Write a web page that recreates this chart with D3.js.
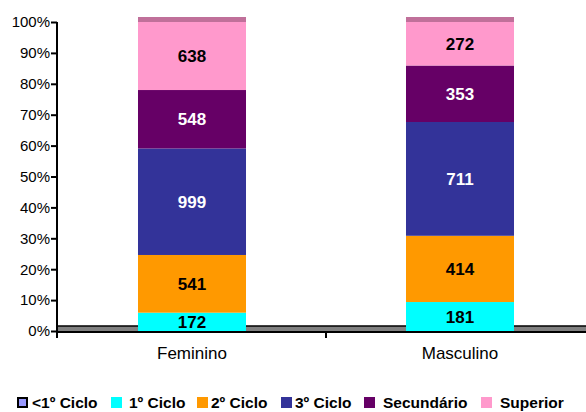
<!DOCTYPE html>
<html>
<head>
<meta charset="utf-8">
<script src="https://cdn.jsdelivr.net/npm/d3@7"></script>
<style>
  body { margin: 0; background: #fff; }
  text { font-family: "Liberation Sans", Arial, sans-serif; }
</style>
</head>
<body>
<div id="container"></div>
<script>
// categories and series
const categories = ["Feminino", "Masculino"];
const seriesNames = ["<1º Ciclo", "1º Ciclo", "2º Ciclo", "3º Ciclo", "Secundário", "Superior"];
const menos1Ciclo = [0, 0];
const ciclo1 = [172, 181];
const ciclo2 = [541, 414];
const ciclo3 = [999, 711];
const secundario = [548, 353];
const superior = [638, 272];
const yTicks = [0, 0.1, 0.2, 0.3, 0.4, 0.5, 0.6, 0.7, 0.8, 0.9, 1];

const colors = ["#9999ff", "#00ffff", "#ff9900", "#333399", "#660066", "#ff99cc"];
const labelColors = ["#000", "#000", "#000", "#fff", "#fff", "#000"];

const width = 586, height = 412;
const plot = { left: 57, right: 586, top: 22, bottom: 331 };

const series = [menos1Ciclo, ciclo1, ciclo2, ciclo3, secundario, superior];

// rows for d3.stack, as shares of each column
const table = categories.map(function (c, i) {
  let row = { cat: c };
  let total = d3.sum(series, function (s) { return s[i]; });
  seriesNames.forEach(function (n, k) {
    row[n] = series[k][i] / total;
    row[n + "_raw"] = series[k][i];
  });
  return row;
});
const stacked = d3.stack().keys(seriesNames)(table);

const x = d3.scaleBand().domain(categories).range([58, 594]).padding(0);
const barW = x.bandwidth() * 0.403;
const y = d3.scaleLinear().domain([0, 1]).range([plot.bottom, plot.top]);

const svg = d3.select("#container").append("svg")
  .attr("width", width)
  .attr("height", height);

// floor
svg.append("rect")
  .attr("x", plot.left).attr("y", y(0) - 5)
  .attr("width", plot.right - plot.left).attr("height", 6)
  .style("fill", "#808080");
svg.append("line")
  .attr("x1", plot.left).attr("x2", plot.right)
  .attr("y1", y(0) - 5).attr("y2", y(0) - 5)
  .style("stroke", "#000").style("stroke-width", 1.3);

// bars
const layers = svg.append("g").selectAll("g")
  .data(stacked)
  .enter().append("g")
  .style("fill", function (d, i) { return colors[i]; });

layers.selectAll("rect")
  .data(function (d) { return d; })
  .enter().append("rect")
  .attr("x", function (d) { return x(d.data.cat) + (x.bandwidth() - barW) / 2; })
  .attr("y", function (d) { return y(d[1]); })
  .attr("width", barW)
  .attr("height", function (d) { return y(d[0]) - y(d[1]); });

// top face of the columns
svg.append("g").selectAll("rect")
  .data(categories)
  .enter().append("rect")
  .attr("x", function (d) { return x(d) + (x.bandwidth() - barW) / 2; })
  .attr("y", y(1) - 5)
  .attr("width", barW)
  .attr("height", 5)
  .style("fill", "#c0709a");

// value labels
stacked.forEach(function (layer, k) {
  svg.append("g").selectAll("text")
    .data(layer.filter(function (d) { return d.data[seriesNames[k] + "_raw"] > 0; }))
    .enter().append("text")
    .attr("x", function (d) { return x(d.data.cat) + x.bandwidth() / 2; })
    .attr("y", function (d) { return (y(d[0]) + y(d[1])) / 2 + 6; })
    .attr("text-anchor", "middle")
    .style("font-size", "17px")
    .style("font-weight", "bold")
    .style("fill", labelColors[k])
    .text(function (d) { return d.data[seriesNames[k] + "_raw"]; });
});

// floor bottom edge / x axis
svg.append("line")
  .attr("x1", plot.left).attr("x2", plot.right)
  .attr("y1", y(0) + 1).attr("y2", y(0) + 1)
  .style("stroke", "#000").style("stroke-width", 2);
svg.append("line")
  .attr("x1", x("Masculino")).attr("x2", x("Masculino"))
  .attr("y1", y(0)).attr("y2", y(0) + 7)
  .style("stroke", "#000").style("stroke-width", 2);

// y axis
const yAxis = svg.append("g")
  .attr("transform", `translate(${plot.left} 0)`)
  .call(d3.axisLeft(y).tickValues(yTicks).tickFormat(d3.format(".0%")).tickSize(6).tickPadding(1));
yAxis.select(".domain").style("stroke", "#000").style("stroke-width", 2)
  .attr("d", `M0,${plot.top}V${y(0) + 7}`);
yAxis.selectAll(".tick line").style("stroke", "#000").style("stroke-width", 2);
yAxis.selectAll(".tick text")
  .style("font-family", "'Liberation Sans', Arial, sans-serif")
  .style("font-size", "15px")
  .style("fill", "#000");

// category labels
svg.append("g").selectAll("text")
  .data(categories)
  .enter().append("text")
  .attr("x", function (d) { return x(d) + x.bandwidth() / 2; })
  .attr("y", 359)
  .attr("text-anchor", "middle")
  .style("font-size", "17px")
  .text(function (d) { return d; });

// legend
const legendX = [17, 111, 197, 281, 364, 481];
const legendTextX = [32, 129, 211, 295, 383, 500];
const legend = svg.append("g");
seriesNames.forEach(function (n, k) {
  legend.append("rect")
    .attr("x", legendX[k] + (k === 0 ? 1 : 0)).attr("y", 397 + (k === 0 ? 1 : 0))
    .attr("width", k === 0 ? 9 : 11).attr("height", k === 0 ? 9 : 11)
    .style("fill", colors[k])
    .style("stroke", k === 0 ? "#000" : "none")
    .style("stroke-width", 2);
  legend.append("text")
    .attr("x", legendTextX[k]).attr("y", 408)
    .style("font-size", "15.5px")
    .style("font-weight", "bold")
    .text(n);
});
</script>
</body>
</html>
